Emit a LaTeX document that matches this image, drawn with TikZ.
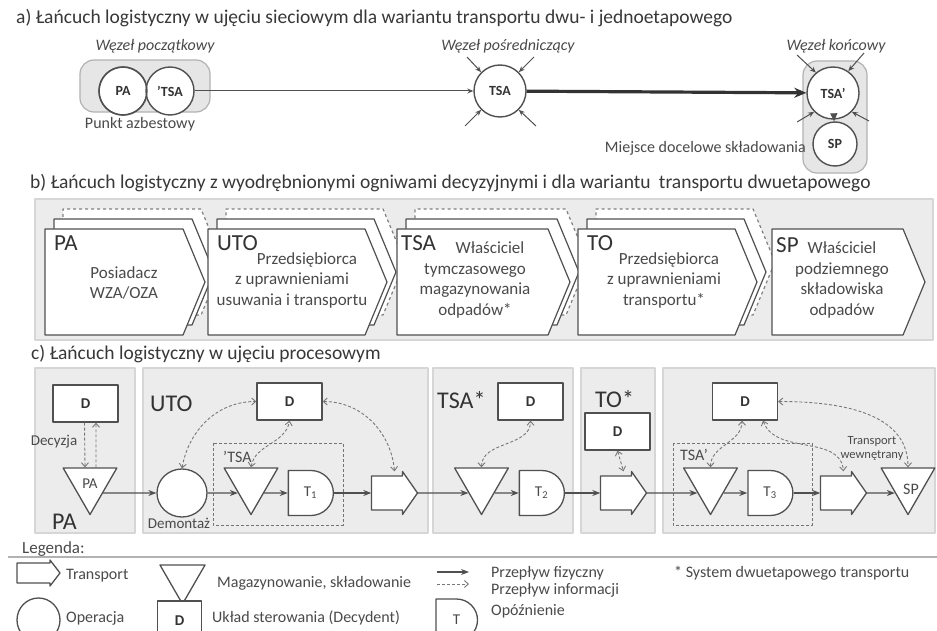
\documentclass[tikz,border=0pt]{standalone}
\usepackage{fontspec}
\setmainfont{Carlito}
\usetikzlibrary{arrows.meta,positioning,calc,shapes.symbols,shapes.geometric,shapes.misc}

\definecolor{panelfill}{HTML}{ECECEC}
\definecolor{paneldraw}{HTML}{D6D6D6}
\definecolor{zonefill}{HTML}{E6E6E6}
\definecolor{inkgray}{HTML}{505050}
\definecolor{txtgray}{HTML}{4A4A4A}
\definecolor{infogray}{HTML}{777777}

\tikzset{infotip/.tip={Straight Barb[length=4pt,width=7pt]},
         flowtip/.tip={Stealth[length=8pt,width=6pt]}}

% transport block: a named frame node plus the notched arrow outline
\newcommand{\carrybox}[3]{%
  \node[inner sep=0, minimum width=46, minimum height=43] (#1) at (#2,#3) {};
  \draw[carry, shift={(#1)}] (-23,-17) -- (8,-17) -- (8,-21.5) -- (23,0) -- (8,21.5) -- (8,17) -- (-23,17) -- cycle;
}

\begin{document}
\begin{tikzpicture}[x=1pt, y=-1pt, line join=round, text=txtgray]
  \tikzstyle{heading} = [anchor=base west, inner sep=0, text=black!78, font={\fontsize{19.5}{22}\selectfont}];
  \tikzstyle{zone} = [rectangle, rounded corners=14, fill=zonefill, draw=gray!60, line width=1.2];
  \tikzstyle{hub} = [circle, draw=inkgray, line width=1.4, fill=white, minimum size=48, inner sep=0, text=black!80, font={\fontsize{14}{16}\selectfont\bfseries}];
  \tikzstyle{nodelabel} = [inner sep=0, font={\fontsize{16}{19}\selectfont\itshape}];
  \tikzstyle{note} = [inner sep=0, font={\fontsize{16}{19}\selectfont}];
  \tikzstyle{feed} = [draw=inkgray, line width=1, -{Stealth[length=6pt,width=5pt]}];
  \tikzstyle{panel} = [fill=panelfill, draw=paneldraw, line width=1.2];
  \tikzstyle{linkbox} = [signal, signal to=east, signal pointer angle=135, draw=inkgray, line width=1.2, fill=white, minimum height=106, inner sep=0];
  \tikzstyle{linkdash} = [linkbox, draw=gray, dashed];
  \tikzstyle{role} = [anchor=base west, inner sep=0, text=black!80, font={\fontsize{23}{26}\selectfont}];
  \tikzstyle{roletext} = [align=center, inner sep=0, font={\fontsize{17}{20.5}\selectfont}];
  \tikzstyle{dbox} = [rectangle, draw=inkgray, line width=1.3, fill=white, minimum width=65, minimum height=37, inner sep=0, text=black!80, font={\fontsize{15}{17}\selectfont\bfseries}];
  \tikzstyle{store} = [regular polygon, regular polygon sides=3, shape border rotate=180, draw=inkgray, line width=1.3, fill=white, minimum size=62, inner sep=0, font={\fontsize{15}{17}\selectfont}];
  \tikzstyle{operation} = [ellipse, draw=inkgray, line width=1.3, fill=white, minimum width=50, minimum height=48, inner sep=0];
  \tikzstyle{delay} = [rounded rectangle, rounded rectangle left arc=none, draw=inkgray, line width=1.3, fill=white, minimum width=45, minimum height=45, inner sep=0, font={\fontsize{15}{17}\selectfont}];
  \tikzstyle{carry} = [draw=inkgray, line width=1.3, fill=white];
  \tikzstyle{flow} = [draw=inkgray, line width=1.1, -flowtip];
  \tikzstyle{info} = [draw=infogray, line width=0.9, dash pattern=on 3pt off 2pt, infotip-infotip];
  \tikzstyle{groupbox} = [draw=inkgray!80, line width=1, dash pattern=on 3pt off 2pt];
  \tikzstyle{legendtext} = [inner sep=0, font={\fontsize{16}{19}\selectfont}];

  \useasboundingbox (0,0) rectangle (937,631);
  \fill[white] (0,0) rectangle (937,631);

  % a) network view
  \node[heading] (titlea) at (16,24) {a) Łańcuch logistyczny w ujęciu sieciowym dla wariantu transportu dwu- i jednoetapowego};
  \node[zone, minimum width=130, minimum height=52] (startzone) at (145,86) {};
  \node[zone, minimum width=64, minimum height=112] (endzone) at (835,117) {};

  \node[hub] (pa) at (123,91) {PA};
  \node[hub] (tsa0) at (170,91) {’TSA};
  \draw[inkgray, line width=1.4] (pa.center) circle [radius=24];
  \node[hub, minimum size=52] (tsa) at (500,91) {TSA};
  \node[hub, minimum size=52] (tsap) at (833,93) {TSA’};
  \node[hub, minimum size=44] (sp) at (835,144) {SP};

  \node[nodelabel] (startlbl) at (155,46) {Węzeł początkowy};
  \node[nodelabel] (midlbl) at (508,46) {Węzeł pośredniczący};
  \node[nodelabel] (endlbl) at (836,46) {Węzeł końcowy};
  \node[note] (asbpoint) at (140,124) {Punkt azbestowy};
  \node[note, anchor=east] (finalsite) at (806,148) {Miejsce docelowe składowania};

  % loose inflows
  \coordinate (m1) at (467,57);
  \coordinate (m2) at (534,57);
  \coordinate (m3) at (465,126);
  \coordinate (m4) at (536,126);
  \coordinate (e1) at (797,55);
  \coordinate (e2) at (864,53);
  \coordinate (e3) at (797,122);
  \coordinate (e4) at (869,121);
  \draw[feed] (m1) -- (tsa.135);
  \draw[feed] (m2) -- (tsa.45);
  \draw[feed] (m3) -- (tsa.225);
  \draw[feed] (m4) -- (tsa.-45);
  \draw[feed] (e1) -- (tsap.130);
  \draw[feed] (e2) -- (tsap.55);
  \draw[feed] (e3) -- (tsap.225);
  \draw[feed] (e4) -- (tsap.-45);

  \draw[feed] (tsa0) -- (tsa);
  \draw[draw=black!80, line width=3.2, -{Stealth[length=12pt,width=10pt]}] (tsa) -- (tsap);
  \draw[draw=inkgray, line width=1.2, -{Triangle[length=8pt,width=7pt]}] (tsap) -- (sp);

  % b) decision links
  \node[heading] (titleb) at (30,189) {b) Łańcuch logistyczny z wyodrębnionymi ogniwami decyzyjnymi i dla wariantu\hspace{4pt} transportu dwuetapowego};
  \draw[panel] (35,199) rectangle (933,340);

  \node[linkdash, minimum width=160] (pab2) at (132,262) {};
  \node[linkbox, minimum width=160] (pab1) at (123,272) {};
  \node[linkbox, minimum width=160] (pab) at (114,282) {};
  \node[role] (parole) at (54,251) {PA};
  \node[roletext] (padesc) at (124,283) {Posiadacz\\WZA/OZA};

  \node[linkdash, minimum width=179] (utob2) at (304.5,262) {};
  \node[linkbox, minimum width=179] (utob1) at (295.5,272) {};
  \node[linkbox, minimum width=179] (utob) at (286.5,282) {};
  \node[role] (utorole) at (217,251) {UTO};
  \node[roletext] (utodesc) at (292,280) {\hspace*{30pt}Przedsiębiorca\\z uprawnieniami\\usuwania i transportu};

  \node[linkdash, minimum width=173] (tsab2) at (490.5,262) {};
  \node[linkbox, minimum width=173] (tsab1) at (481.5,272) {};
  \node[linkbox, minimum width=173] (tsab) at (472.5,282) {};
  \node[role] (tsarole) at (401,251) {TSA};
  \node[roletext] (tsadesc) at (475,280) {\hspace*{30pt}Właściciel\\tymczasowego\\magazynowania\\odpadów*};

  \node[linkdash, minimum width=179] (tob2) at (674.5,262) {};
  \node[linkbox, minimum width=179] (tob1) at (665.5,272) {};
  \node[linkbox, minimum width=179] (tob) at (656.5,282) {};
  \node[role] (torole) at (587,251) {TO};
  \node[roletext] (todesc) at (664,280) {\hspace*{10pt}Przedsiębiorca\\z uprawnieniami\\transportu*};

  \node[linkbox, minimum width=153] (spb) at (837.5,282) {};
  \node[role] (sprole) at (776,252) {SP};
  \node[roletext] (spdesc) at (842,280) {Właściciel\\podziemnego\\składowiska\\odpadów};

  % c) process view
  \node[heading] (titlec) at (31,359) {c) Łańcuch logistyczny w ujęciu procesowym};
  \draw[panel] (35,368) rectangle (135,533);
  \draw[panel] (143,368) rectangle (428,533);
  \draw[panel] (433,368) rectangle (573,533);
  \draw[panel] (581,368) rectangle (655,533);
  \draw[panel] (663,368) rectangle (935,533);

  \node[role, font={\fontsize{24}{26}\selectfont}] (pac) at (52,529) {PA};
  \node[role, font={\fontsize{24}{26}\selectfont}] (utoc) at (150,411) {UTO};
  \node[role, font={\fontsize{24}{26}\selectfont}] (tsac) at (437,408) {TSA*};
  \node[role, font={\fontsize{24}{26}\selectfont}] (toc) at (595,407) {TO*};

  \draw[groupbox] (213,443) rectangle (343,525);
  \draw[groupbox] (673,443) rectangle (812,525);
  \node[legendtext, anchor=base west] (tsa1lbl) at (223,462) {’TSA};
  \node[legendtext, anchor=base west] (tsa3lbl) at (680,460) {TSA’};

  \node[dbox] (dpa) at (85.5,403.5) {D};
  \node[dbox] (duto) at (289.5,401.5) {D};
  \node[dbox] (dtsa) at (530.5,401.5) {D};
  \node[dbox] (dto) at (617.5,431.5) {D};
  \node[dbox] (dsp) at (745,401.5) {D};

  \node[store] (spa) at (90,483.5) {PA};
  \node[operation] (dem) at (182,493) {};
  \node[store] (stsa1) at (251,483.5) {};
  \node[delay] (t1) at (310.5,493) {T\textsubscript{1}};
  \carrybox{tr1}{394.5}{493}
  \node[store] (stsa2) at (481.5,483.5) {};
  \node[delay] (t2) at (541.5,493) {T\textsubscript{2}};
  \carrybox{tr2}{623.5}{493}
  \node[store] (stsa3) at (710.5,483.5) {};
  \node[delay] (t3) at (770,493) {T\textsubscript{3}};
  \carrybox{tr3}{843.5}{493}
  \node[store] (ssp) at (908,483.5) {};
  \node[legendtext] (ssplbl) at (911,489) {SP};

  \node[legendtext, font={\fontsize{15}{17}\selectfont}] (decision) at (54,442) {Decyzja};
  \node[legendtext, font={\fontsize{15}{17}\selectfont}] (demlbl) at (179,523) {Demontaż};
  \node[align=center, inner sep=0, font={\fontsize{12.5}{14}\selectfont}] (inner) at (872,448) {Transport\\wewnętrany};

  % where the flow line meets the triangle sides
  \coordinate (spaout) at ($(spa.corner 2)!0.53!(spa.corner 1)$);
  \coordinate (s1in) at ($(stsa1.corner 3)!0.53!(stsa1.corner 1)$);
  \coordinate (s1out) at ($(stsa1.corner 2)!0.53!(stsa1.corner 1)$);
  \coordinate (s2in) at ($(stsa2.corner 3)!0.53!(stsa2.corner 1)$);
  \coordinate (s2out) at ($(stsa2.corner 2)!0.53!(stsa2.corner 1)$);
  \coordinate (s3in) at ($(stsa3.corner 3)!0.53!(stsa3.corner 1)$);
  \coordinate (s3out) at ($(stsa3.corner 2)!0.53!(stsa3.corner 1)$);
  \coordinate (spin) at ($(ssp.corner 3)!0.53!(ssp.corner 1)$);

  \draw[flow] (spaout) -- (dem.west);
  \draw[flow] (dem.east) -- (s1in);
  \draw[flow] (s1out) -- (t1.west);
  \draw[flow] (t1.east) -- (tr1.west);
  \draw[flow] (tr1.east) -- (s2in);
  \draw[flow] (s2out) -- (t2.west);
  \draw[flow] (t2.east) -- (tr2.west);
  \draw[flow] (tr2.east) -- (s3in);
  \draw[flow] (s3out) -- (t3.west);
  \draw[flow] (t3.east) -- (tr3.west);
  \draw[flow] (tr3.east) -- (spin);

  \draw[info, -infotip] ($(dpa.south)+(-1,0)$) -- ($(spa.north)+(-5,0)$);
  \draw[info, -infotip] ($(spa.north)+(6,0)$) -- ($(dpa.south)+(10.5,0)$);
  \draw[info] (dem.north) to[out=80, in=180] (duto.west);
  \draw[info] (duto.east) to[out=0, in=95] (tr1.north);
  \draw[info] (stsa1.north) to[out=80, in=-100] (duto.south);
  \draw[info] (stsa2.north) to[out=90, in=-90] (dtsa.south);
  \draw[info] (dto.south) -- (tr2.north);
  \draw[info] (stsa3.north) to[out=90, in=-90] ($(dsp.south)+(-3,0)$);
  \draw[info] ($(dsp.south)+(18,0)$) to[out=-70, in=95] (tr3.north);
  \draw[info] (dsp.east) to[out=0, in=90] (ssp.north);

  % legend
  \node[heading, text=txtgray, font={\fontsize{17}{20}\selectfont}] (legend) at (22,553) {Legenda:};
  \draw[gray!60, line width=2] (8,557) -- (937,557);

  \node[inner sep=0, minimum width=43, minimum height=26] (lgtr) at (38.5,573) {};
  \draw[carry, shift={(lgtr)}] (-21.5,-10) -- (11.5,-10) -- (11.5,-13) -- (21.5,0) -- (11.5,13) -- (11.5,10) -- (-21.5,10) -- cycle;
  \node[legendtext, anchor=west] (lgtrtxt) at (66,576) {Transport};
  \node[store, minimum size=52] (lgst) at (182.5,578) {};
  \node[legendtext, anchor=west] (lgsttxt) at (217,583) {Magazynowanie, składowanie};
  \coordinate (lgf0) at (437,572);
  \coordinate (lgf1) at (469,572);
  \draw[flow] (lgf0) -- (lgf1);
  \coordinate (lgi0) at (437,584);
  \coordinate (lgi1) at (469,584);
  \draw[info, -infotip] (lgi0) -- (lgi1);
  \node[legendtext, anchor=west] (lgftxt) at (491,573) {Przepływ fizyczny};
  \node[legendtext, anchor=west] (lgitxt) at (491,590) {Przepływ informacji};
  \node[legendtext, anchor=west] (lgstar) at (674,573) {* System dwuetapowego transportu};
  \node[operation, minimum width=43, minimum height=44] (lgop) at (38.5,620) {};
  \node[legendtext, anchor=west] (lgoptxt) at (66,618) {Operacja};
  \node[dbox, minimum width=44, minimum height=40] (lgd) at (179.5,621) {D};
  \node[legendtext, anchor=west] (lgdtxt) at (212,618) {Układ sterowania (Decydent)};
  \node[delay, minimum width=37, minimum height=42] (lgdel) at (456.5,620) {T};
  \node[legendtext, anchor=west] (lgdeltxt) at (491,611) {Opóźnienie};
\end{tikzpicture}
\end{document}
